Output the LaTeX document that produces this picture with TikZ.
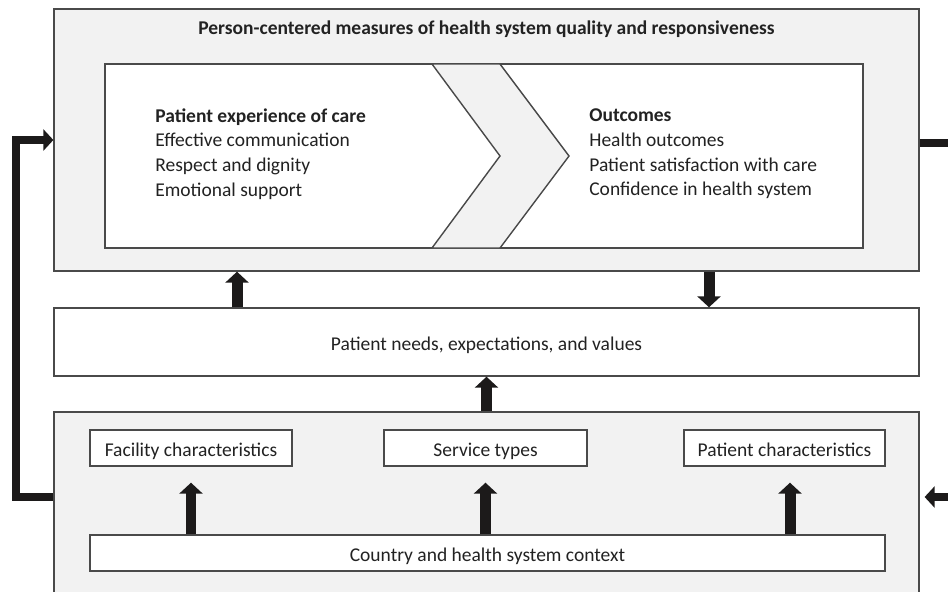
\documentclass[tikz,border=0pt]{standalone}
\usepackage{fontspec}
\setmainfont{Carlito}
\usetikzlibrary{arrows.meta,positioning,calc}

\definecolor{panelgray}{HTML}{F2F2F2}
\definecolor{framegray}{HTML}{4A4A4A}
\definecolor{textgray}{HTML}{222222}
\definecolor{arrowblack}{HTML}{1C1A1A}

\begin{document}
\begin{tikzpicture}[x=0.02cm, y=-0.02cm]
    % Define styles
    \tikzset{
        panel/.style={rectangle, draw=framegray, fill=panelgray, line width=0.8pt, inner sep=0pt},
        whitebox/.style={rectangle, draw=framegray, fill=white, line width=0.8pt, inner sep=0pt},
        txt/.style={font=\fontsize{11.1}{14}\selectfont, text=textgray},
        boxtxt/.style={whitebox, txt, text height=0.32cm, text depth=0pt},
        headtxt/.style={font=\fontsize{11.1}{14}\selectfont\bfseries, text=textgray},
        blockarrow/.style={line width=0.22cm, draw=arrowblack, -{Triangle[length=0.22cm, width=0.46cm]}},
        feedback/.style={line width=0.17cm, draw=arrowblack}
    }

    \path[use as bounding box, clip] (0,0) rectangle (948,592);

    % Top panel
    \node[panel, minimum width=17.3cm, minimum height=5.24cm] (quality) at (486.5,140) {};
    \node[headtxt] (title) at (486.5,29) {Person-centered measures of health system quality and responsiveness};
    \node[whitebox, minimum width=15.16cm, minimum height=3.68cm] (care) at (484,156) {};
    \filldraw[fill=panelgray, draw=framegray, line width=0.8pt]
        (432,64) -- (500,156) -- (432,248) -- (500,248) -- (569,156) -- (500,64) -- cycle;
    \node[txt, inner sep=0pt, align=left, anchor=west] (experience) at (155,154)
        {\textbf{Patient experience of care}\\Effective communication\\Respect and dignity\\Emotional support};
    \node[txt, inner sep=0pt, align=left, anchor=west] (outcomes) at (589,154)
        {\textbf{Outcomes}\\Health outcomes\\Patient satisfaction with care\\Confidence in health system};

    % Middle box
    \node[boxtxt, minimum width=17.3cm, minimum height=1.36cm] (needs) at (486.5,342) {Patient needs, expectations, and values};

    % Bottom panel
    \node[panel, minimum width=17.3cm, minimum height=3.76cm] (setting) at (486.5,506) {};
    \node[boxtxt, minimum width=4.04cm, minimum height=0.72cm] (facility) at (191,448) {Facility characteristics};
    \node[boxtxt, minimum width=4.06cm, minimum height=0.72cm] (services) at (485.5,448) {Service types};
    \node[boxtxt, minimum width=4.02cm, minimum height=0.72cm] (patients) at (784.5,448) {Patient characteristics};
    \node[boxtxt, minimum width=15.9cm, minimum height=0.72cm] (context) at (487.5,553) {Country and health system context};

    % Arrows
    \coordinate (upL) at (237,0);
    \coordinate (downR) at (709,0);
    \draw[blockarrow] (needs.north -| upL) -- (quality.south -| upL);
    \draw[blockarrow] (quality.south -| downR) -- (needs.north -| downR);
    \draw[blockarrow] (setting.north) -- (needs.south);
    \draw[blockarrow] (context.north -| facility) -- ([yshift=-0.32cm]facility.south);
    \draw[blockarrow] (context.north -| services) -- ([yshift=-0.32cm]services.south);
    \coordinate (tipP) at ($(patients.south)+(5.5,16)$);
    \draw[blockarrow] (context.north -| tipP) -- (tipP);

    % Feedback loop
    \coordinate (loopL) at (16,497);
    \coordinate (loopR) at (960,143);
    \coordinate (returnR) at (960,497);
    \coordinate (tipR) at ($(setting.east |- returnR)+(5,0)$);
    \draw[feedback, -{Triangle[length=0.2cm, width=0.42cm]}] (setting.west |- loopL) -- (loopL) |- (quality.west);
    \draw[feedback] (quality.east |- loopR) -- (loopR);
    \draw[feedback, -{Triangle[length=0.2cm, width=0.42cm]}] (returnR) -- (tipR);
\end{tikzpicture}
\end{document}
